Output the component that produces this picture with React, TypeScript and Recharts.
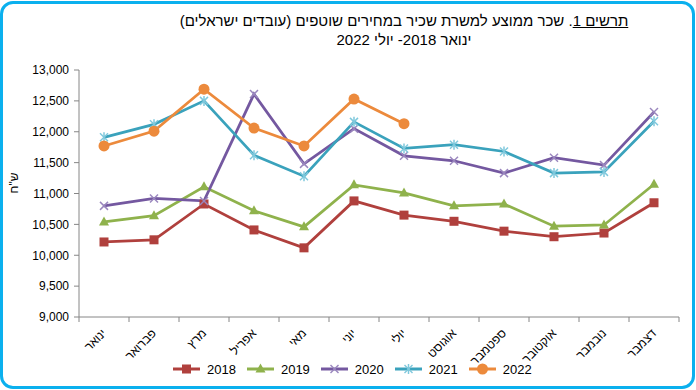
import React from 'react'
import { LineChart, Line, XAxis, YAxis } from 'recharts'

const months = ['ינואר', 'פברואר', 'מרץ', 'אפריל', 'מאי', 'יוני', 'יולי', 'אוגוסט', 'ספטמבר', 'אוקטובר', 'נובמבר', 'דצמבר']
const s2018 = [10215, 10250, 10830, 10410, 10120, 10880, 10650, 10550, 10390, 10300, 10360, 10850]
const s2019 = [10540, 10640, 11110, 10720, 10460, 11140, 11010, 10800, 10830, 10470, 10490, 11150]
const s2020 = [10800, 10920, 10880, 12610, 11480, 12050, 11610, 11530, 11330, 11580, 11460, 12320]
const s2021 = [11910, 12120, 12500, 11620, 11280, 12160, 11730, 11790, 11680, 11330, 11350, 12170]
const s2022 = [11770, 12010, 12690, 12060, 11770, 12530, 12130]
const yTicks = [9000, 9500, 10000, 10500, 11000, 11500, 12000, 12500, 13000]

const data = months.map((m, i) => ({
  month: m,
  y2018: s2018[i],
  y2019: s2019[i],
  y2020: s2020[i],
  y2021: s2021[i],
  y2022: s2022[i] ?? null,
}))

const FONT = '"Liberation Sans", Arial, sans-serif'
const AXIS = '#868686'

type Shape = 'square' | 'triangle' | 'x' | 'star' | 'circle'

const series: { key: string; name: string; color: string; mark: string; shape: Shape }[] = [
  { key: 'y2018', name: '2018', color: '#B0403D', mark: '#B0403D', shape: 'square' },
  { key: 'y2019', name: '2019', color: '#8FB24C', mark: '#8FB24C', shape: 'triangle' },
  { key: 'y2020', name: '2020', color: '#7458A0', mark: '#9A86BE', shape: 'x' },
  { key: 'y2021', name: '2021', color: '#3AA2BC', mark: '#7FC8DC', shape: 'star' },
  { key: 'y2022', name: '2022', color: '#EC8A3C', mark: '#EC8A3C', shape: 'circle' },
]

function Marker({ cx, cy, shape, color }: { cx: number; cy: number; shape: Shape; color: string }) {
  if (shape === 'square') return <rect x={cx - 4.5} y={cy - 4.5} width={9} height={9} fill={color} />
  if (shape === 'triangle')
    return <polygon points={`${cx},${cy - 5.5} ${cx + 5},${cy + 3.5} ${cx - 5},${cy + 3.5}`} fill={color} />
  if (shape === 'circle') return <circle cx={cx} cy={cy} r={5.5} fill={color} />
  return (
    <g stroke={color} strokeWidth={1.5}>
      <line x1={cx - 4} y1={cy - 4} x2={cx + 4} y2={cy + 4} />
      <line x1={cx - 4} y1={cy + 4} x2={cx + 4} y2={cy - 4} />
      {shape === 'star' && <line x1={cx} y1={cy - 5} x2={cx} y2={cy + 5} />}
    </g>
  )
}

const HALF_BAND = 25

function MonthTick(props: any) {
  const { x, y, payload, index } = props
  return (
    <g>
      <line x1={x - HALF_BAND} y1={y} x2={x - HALF_BAND} y2={y + 5} stroke={AXIS} />
      {index === months.length - 1 && <line x1={x + HALF_BAND} y1={y} x2={x + HALF_BAND} y2={y + 5} stroke={AXIS} />}
      <text
        x={x + 3}
        y={y + 17}
        textAnchor="end"
        transform={`rotate(-45, ${x + 3}, ${y + 17})`}
        fontSize={12}
        fontFamily={FONT}
        fill="#000"
      >
        {payload.value}
      </text>
    </g>
  )
}

export default function App() {
  return (
    <div style={{ position: 'absolute', left: 0, top: 0, width: 696, height: 390, background: '#fff', fontFamily: FONT }}>
      <div
        style={{
          position: 'absolute',
          left: 0,
          top: 1,
          width: 695,
          height: 388,
          border: '3.5px solid #0BB0EE',
          borderRadius: 13,
          boxSizing: 'border-box',
        }}
      />
      <div
        dir="rtl"
        style={{ position: 'absolute', left: 104, width: 600, top: 11, textAlign: 'center', fontSize: 15, lineHeight: '19px', color: '#000' }}
      >
        <div>
          <u>תרשים 1</u>. שכר ממוצע למשרת שכיר במחירים שוטפים (עובדים ישראלים)
        </div>
        <div>ינואר 2018- יולי 2022</div>
      </div>
      <LineChart width={696} height={390} data={data} margin={{ top: 70, right: 17, left: 0, bottom: 0 }}>
        <XAxis
          dataKey="month"
          height={73}
          interval={0}
          padding={{ left: HALF_BAND, right: HALF_BAND }}
          tickLine={false}
          tickSize={0}
          tickMargin={0}
          stroke={AXIS}
          tick={<MonthTick />}
        />
        <YAxis
          width={79}
          domain={[9000, 13000]}
          ticks={yTicks}
          interval={0}
          tickSize={5}
          tickMargin={5}
          stroke={AXIS}
          tick={{ fill: '#000', fontSize: 12, fontFamily: FONT }}
          tickFormatter={(v: number) => v.toLocaleString('en-US')}
          label={() => (
            <text
              x={14}
              y={183}
              transform="rotate(-90, 14, 183)"
              textAnchor="middle"
              dominantBaseline="central"
              fontSize={12}
              fontFamily={FONT}
              fill="#000"
            >
              ש"ח
            </text>
          )}
        />
        {series.map((s) => (
          <Line
            key={s.key}
            dataKey={s.key}
            name={s.name}
            stroke={s.color}
            strokeWidth={2.75}
            isAnimationActive={false}
            activeDot={false}
            dot={(p: any) =>
              p.cy == null ? (
                <g key={`${s.key}-${p.index}`} />
              ) : (
                <Marker key={`${s.key}-${p.index}`} cx={p.cx} cy={p.cy} shape={s.shape} color={s.mark} />
              )
            }
          />
        ))}
      </LineChart>
      <div style={{ position: 'absolute', left: 173, top: 360, display: 'flex', alignItems: 'center', fontSize: 13, color: '#000' }}>
        {series.map((s) => (
          <div key={s.key} style={{ display: 'flex', alignItems: 'center', marginRight: 11 }}>
            <svg width={27} height={18}>
              <line x1={0} y1={9} x2={27} y2={9} stroke={s.color} strokeWidth={3} />
              <Marker cx={13.5} cy={9} shape={s.shape} color={s.mark} />
            </svg>
            <span style={{ marginLeft: 7 }}>{s.name}</span>
          </div>
        ))}
      </div>
    </div>
  )
}
